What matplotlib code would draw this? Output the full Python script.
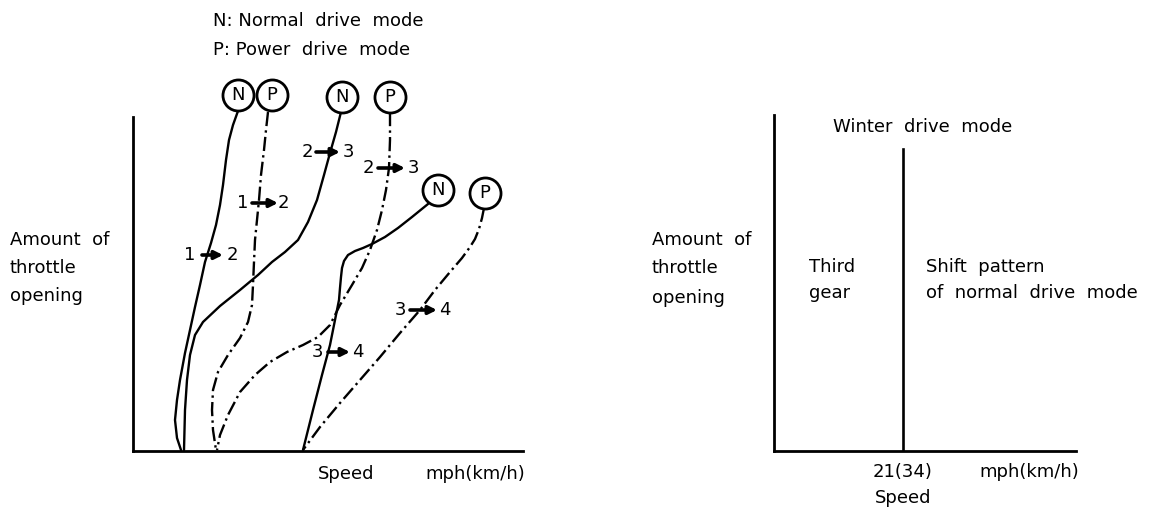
import matplotlib
matplotlib.use("Agg")
import matplotlib.pyplot as plt

plt.rcParams['font.family'] = ['DejaVu Sans']

# ─────────────────────────────────────────
# DATA  (left panel: arbitrary speed / throttle units, origin at axis corner)
# ─────────────────────────────────────────
n12_x = [105, 100, 96, 93, 90, 87, 83, 78, 72, 67, 62, 57, 52, 47, 44, 42, 44, 48]
n12_y = [340, 326, 311, 291, 266, 246, 226, 208, 189, 166, 144, 121, 98, 71, 51, 31, 13, 1]

n23_x = [208, 203, 197, 191, 184, 175, 165, 152, 139, 125, 107, 87, 70, 62, 57, 54, 52, 51]
n23_y = [339, 319, 298, 276, 251, 229, 211, 199, 189, 176, 161, 145, 129, 116, 96, 71, 41, 1]

n34_x = [295, 279, 265, 252, 239, 230, 222, 215, 211, 209, 208, 207, 206, 203, 197, 189, 180, 170]
n34_y = [247, 234, 223, 214, 207, 203, 200, 196, 190, 183, 174, 163, 151, 136, 106, 76, 41, 1]

p12_x = [135, 133, 131, 128, 126, 124, 122, 121, 120, 119, 115, 107, 95, 85, 80, 79, 80, 83]
p12_y = [339, 321, 301, 276, 251, 231, 211, 189, 166, 146, 129, 113, 96, 79, 61, 41, 21, 1]

p23_x = [257, 257, 256, 253, 249, 244, 237, 229, 219, 207, 197, 185, 170, 154, 137, 122, 107, 95, 87, 84]
p23_y = [339, 311, 283, 261, 241, 221, 201, 183, 166, 146, 126, 114, 106, 99, 89, 76, 59, 36, 16, 1]

p34_x = [351, 349, 346, 342, 337, 329, 317, 302, 287, 267, 247, 227, 207, 187, 170]
p34_y = [243, 233, 222, 212, 204, 193, 179, 161, 141, 118, 94, 71, 48, 24, 1]

mode_labels = ['N', 'P', 'N', 'P', 'N', 'P']
mode_x = [105, 139, 209, 257, 305, 352]
mode_y = [356, 356, 354, 354, 261, 258]

shift_from = ['1', '1', '2', '2', '3', '3']
shift_to   = ['2', '2', '3', '3', '4', '4']
shift_x0   = [57, 110, 174, 235, 184, 267]     # "from" digit
shift_a0   = [69, 119, 183, 245, 195, 277]     # arrow start
shift_a1   = [90, 145, 207, 272, 217, 304]     # arrow end
shift_x1   = [99, 150, 215, 280, 225, 312]     # "to" digit
shift_y    = [196, 248, 299, 283, 99, 141]

# right panel: speed in mph, throttle in %
winter_speed = 21
winter_top   = 90

FS = 13
DASHDOT = (0, (6, 1.8, 1, 1.8))

fig = plt.figure(figsize=(11.55, 5.11), dpi=100)

# ─────────────────────────────────────────
# LEFT PANEL
# ─────────────────────────────────────────
axL = fig.add_axes([133 / 1155, 60 / 511, 390 / 1155, 334 / 511])
axL.set_xlim(0, 390)
axL.set_ylim(0, 334)

for xs, ys in [(n12_x, n12_y), (n23_x, n23_y), (n34_x, n34_y)]:
    axL.plot(xs, ys, color='black', lw=1.7, clip_on=False,
             solid_capstyle='round', solid_joinstyle='round')
for xs, ys in [(p12_x, p12_y), (p23_x, p23_y), (p34_x, p34_y)]:
    axL.plot(xs, ys, color='black', lw=1.7, ls=DASHDOT, clip_on=False)

axL.scatter(mode_x, mode_y, s=500, facecolor='white', edgecolor='black',
            linewidth=2.0, zorder=5, clip_on=False)
for lab, x, y in zip(mode_labels, mode_x, mode_y):
    axL.text(x, y, lab, ha='center', va='center', fontsize=FS, zorder=6)

for a, b, x0, a0, a1, x1, y in zip(shift_from, shift_to, shift_x0, shift_a0,
                                   shift_a1, shift_x1, shift_y):
    axL.text(x0, y, a, ha='center', va='center', fontsize=FS)
    axL.text(x1, y, b, ha='center', va='center', fontsize=FS)
    axL.annotate('', xy=(a1, y), xytext=(a0, y),
                 arrowprops=dict(arrowstyle='-|>', lw=2.6, color='black',
                                 mutation_scale=12, shrinkA=0, shrinkB=0))

axL.text(-123, 211, 'Amount  of', fontsize=FS, va='center', clip_on=False)
axL.text(-123, 183, 'throttle', fontsize=FS, va='center', clip_on=False)
axL.text(-123, 155, 'opening', fontsize=FS, va='center', clip_on=False)
axL.text(185, -23, 'Speed', fontsize=FS, va='center')
axL.text(292, -23, 'mph(km/h)', fontsize=FS, va='center')
axL.text(80, 430, 'N: Normal  drive  mode', fontsize=FS, va='center')
axL.text(80, 401, 'P: Power  drive  mode', fontsize=FS, va='center')

# ─────────────────────────────────────────
# RIGHT PANEL
# ─────────────────────────────────────────
axR = fig.add_axes([774 / 1155, 60 / 511, 302 / 1155, 336 / 511])
axR.set_xlim(0, 49.2)
axR.set_ylim(0, 100)
axR.plot([winter_speed, winter_speed], [0, winter_top], color='black', lw=1.9)

axR.text(9.6, 96.4, 'Winter  drive  mode', fontsize=FS, va='center')
axR.text(5.7, 54.8, 'Third', fontsize=FS, va='center')
axR.text(5.7, 47.0, 'gear', fontsize=FS, va='center')
axR.text(24.8, 54.8, 'Shift  pattern', fontsize=FS, va='center')
axR.text(24.8, 47.0, 'of  normal  drive  mode', fontsize=FS, va='center',
         clip_on=False)
axR.text(-19.9, 62.8, 'Amount  of', fontsize=FS, va='center')
axR.text(-19.9, 54.5, 'throttle', fontsize=FS, va='center')
axR.text(-19.9, 45.5, 'opening', fontsize=FS, va='center')
axR.text(winter_speed, -6.3, f'{winter_speed}(34)', fontsize=FS,
         ha='center', va='center')
axR.text(33.5, -6.3, 'mph(km/h)', fontsize=FS, va='center')
axR.text(winter_speed, -14, 'Speed', fontsize=FS, ha='center', va='center')

for ax in (axL, axR):
    ax.spines[['top', 'right']].set_visible(False)
    ax.spines[['left', 'bottom']].set_linewidth(2.0)
    ax.set_xticks([])
    ax.set_yticks([])
    ax.patch.set_alpha(0)

fig.savefig('out.png', dpi=100)
